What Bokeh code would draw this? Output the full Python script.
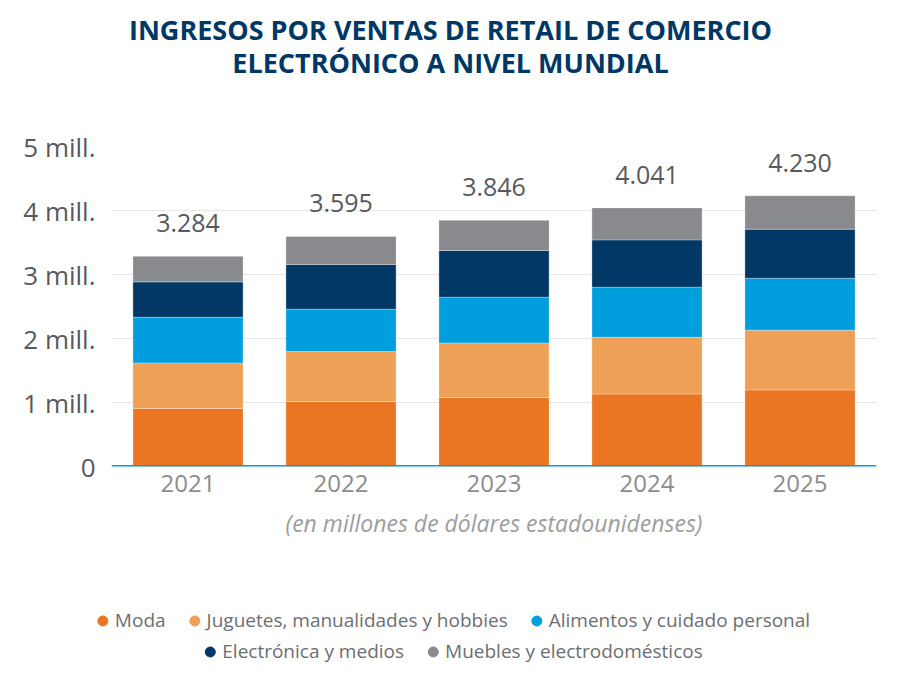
from bokeh.plotting import figure
from bokeh.layouts import column
from bokeh.models import (FactorRange, Range1d, Span, Legend, LegendItem,
                          ColumnDataSource, FixedTicker)
from bokeh.embed import file_html
from bokeh.resources import INLINE
from bokeh.core.properties import value

# ---------------- data (miles de millones de USD) ----------------
years = ["2021", "2022", "2023", "2024", "2025"]
moda = [906, 1016, 1078, 1134, 1197]
juguetes = [713, 781, 853, 886, 933]
alimentos = [714, 661, 714, 782, 812]
electronica = [552, 698, 730, 739, 766]
muebles = [399, 439, 471, 500, 522]
series_keys = ["moda", "juguetes", "alimentos", "electronica", "muebles"]
series_names = ["Moda", "Juguetes, manualidades y hobbies",
                "Alimentos y cuidado personal", "Electrónica y medios",
                "Muebles y electrodomésticos"]
colors = ["#EA7623", "#EDA056", "#009EDD", "#023865", "#898A8E"]
y_ticks = [0, 1000, 2000, 3000, 4000, 5000]
y_tick_labels = ["0", "1 mill.", "2 mill.", "3 mill.", "4 mill.", "5 mill."]
title_lines = ["INGRESOS POR VENTAS DE RETAIL DE COMERCIO",
               "ELECTRÓNICO A NIVEL MUNDIAL"]
subtitle = "(en millones de dólares estadounidenses)"

FONT = "Open Sans"
W = 900

totals = [sum(v) for v in zip(moda, juguetes, alimentos, electronica, muebles)]
total_labels = [f"{t:,}".replace(",", ".") for t in totals]

source = ColumnDataSource(dict(years=years, moda=moda, juguetes=juguetes,
                               alimentos=alimentos, electronica=electronica,
                               muebles=muebles))
lab_src = ColumnDataSource(dict(x=years, y=totals, text=total_labels))


def no_align(fig):
    try:
        fig.frame_align = False
    except Exception:
        pass


# ---------------- title strip ----------------
TH = 90
ft = figure(width=W, height=TH, x_range=Range1d(0, W), y_range=Range1d(TH, 0),
            x_axis_location=None, y_axis_location=None, output_backend="svg",
            toolbar_location=None, min_border=0)
no_align(ft)
ft.outline_line_color = None
ft.grid.visible = False
ft.text(x=[W / 2] * len(title_lines), y=[29 + 33 * i for i in range(len(title_lines))],
        text=title_lines, text_align="center", text_baseline="middle",
        text_font=value(FONT), text_font_style="bold", text_font_size="27px",
        text_color="#003865")

# ---------------- main chart ----------------
# frame: left 111, right 876, top 146, bottom 466 (page coordinates)
PH = 500
p = figure(x_range=FactorRange(*years, range_padding=0),
           y_range=Range1d(0, 5000),
           width=W, height=PH, output_backend="svg", toolbar_location=None,
           min_border_left=111, min_border_right=24,
           min_border_top=146 - TH, min_border_bottom=TH + PH - 466)
no_align(p)
p.outline_line_color = None

p.vbar_stack(series_keys, x="years", width=0.72, source=source, color=colors,
             line_color="white", line_width=0.6, line_alpha=0.5)

p.text(x="x", y="y", text="text", source=lab_src, text_align="center",
       text_baseline="alphabetic", y_offset=-33, text_font=value(FONT),
       text_font_size="25px", text_color="#58595B")

p.xgrid.grid_line_color = None
p.ygrid.ticker = FixedTicker(ticks=y_ticks[1:-1])
p.ygrid.grid_line_color = "#E6E6E6"
p.ygrid.grid_line_width = 1

p.add_layout(Span(location=0, dimension="width", line_color="#009FDF",
                  line_width=3))

p.yaxis.ticker = FixedTicker(ticks=y_ticks)
p.yaxis.major_label_overrides = {t: l for t, l in zip(y_ticks, y_tick_labels)}
p.yaxis.axis_line_color = None
p.yaxis.major_tick_line_color = None
p.yaxis.minor_tick_line_color = None
p.yaxis.major_label_text_font = FONT
p.yaxis.major_label_text_font_size = "26px"
p.yaxis.major_label_text_color = "#58595B"
p.yaxis.major_label_standoff = 10

p.xaxis.axis_line_color = None
p.xaxis.major_tick_line_color = None
p.xaxis.minor_tick_line_color = None
p.xaxis.major_label_text_font = FONT
p.xaxis.major_label_text_font_size = "24px"
p.xaxis.major_label_text_color = "#8C8C8C"
p.xaxis.major_label_standoff = 2
p.xaxis.axis_label = subtitle
p.xaxis.axis_label_text_font = FONT
p.xaxis.axis_label_text_font_style = "italic"
p.xaxis.axis_label_text_font_size = "23px"
p.xaxis.axis_label_text_color = "#9D9D9D"
p.xaxis.axis_label_standoff = 12

# ---------------- legend strip ----------------
LH = 679 - TH - PH
fl = figure(width=W, height=LH, x_range=Range1d(0, 1), y_range=Range1d(0, 1),
            x_axis_location=None, y_axis_location=None, output_backend="svg",
            toolbar_location=None, min_border=0)
no_align(fl)
fl.outline_line_color = None
fl.grid.visible = False
# legend-only renderers: one point placed outside the visible range
dummies = [fl.scatter(x=[-5], y=[-5], marker="circle", color=c, size=10) for c in colors]
items = [LegendItem(label=n, renderers=[r]) for n, r in zip(series_names, dummies)]


def make_legend(its, loc, margin):
    return Legend(items=its, orientation="horizontal", location=loc,
                  background_fill_alpha=0, border_line_color=None,
                  padding=0, margin=margin, spacing=16, glyph_width=25,
                  glyph_height=25, label_standoff=0, label_text_font=FONT,
                  label_text_font_size="19px", label_text_color="#6D6E71")


fl.add_layout(make_legend(items[:3], "top_center", 17))
fl.add_layout(make_legend(items[3:], "bottom_center", 15))

layout = column(ft, p, fl, spacing=0)
open("out.html", "w").write(file_html(layout, INLINE))
